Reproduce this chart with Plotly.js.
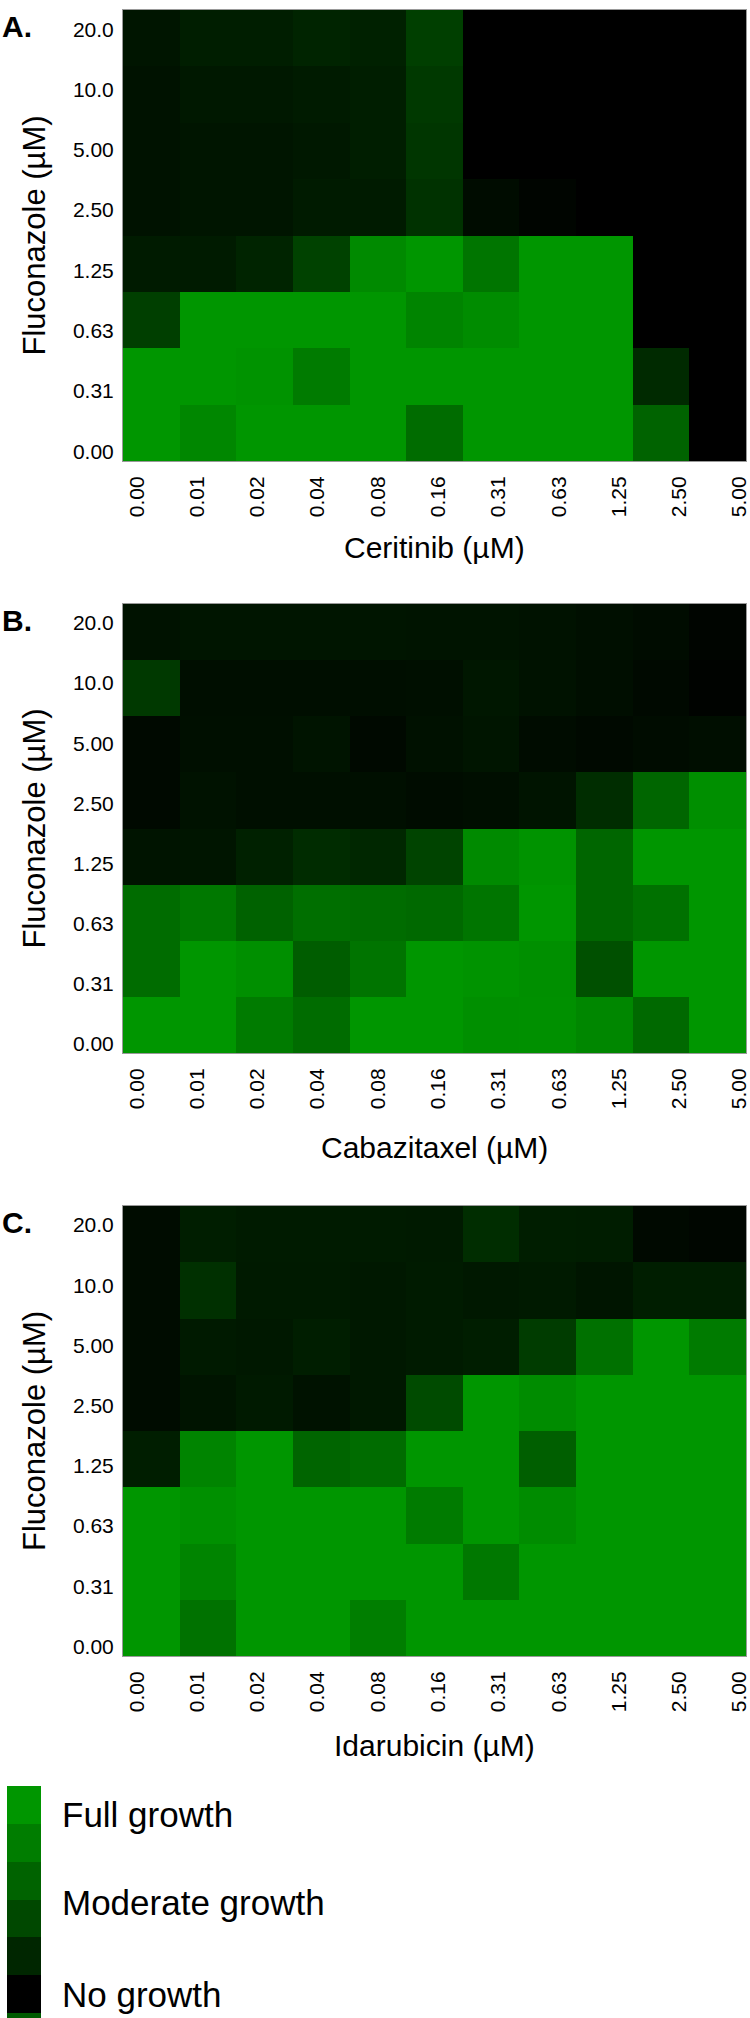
<!DOCTYPE html>
<html>
<head>
<meta charset="utf-8">
<script src="https://cdn.plot.ly/plotly-3.0.1.min.js"></script>
<style>html,body{margin:0;padding:0;background:#ffffff;}</style>
</head>
<body>
<div id="chart" style="width:750px;height:2018px;"></div>
<script>
// ---------- DATA ----------
const fluconazoleLabels = ["0.00","0.31","0.63","1.25","2.50","5.00","10.0","20.0"];
const secondDrugLabels = ["0.00","0.01","0.02","0.04","0.08","0.16","0.31","0.63","1.25","2.50","5.00"];
const panelLetters = ["A.","B.","C."];
const drugTitles = ["Ceritinib (µM)","Cabazitaxel (µM)","Idarubicin (µM)"];
const yTitle = "Fluconazole (µM)";

// relative growth (%), rows listed from top (20.0 µM) to bottom (0.00 µM)
const growthCeritinib = [
  [14, 20, 20, 24, 22, 42, 0, 0, 0, 0, 0],
  [12, 16, 16, 18, 20, 38, 0, 0, 0, 0, 0],
  [12, 14, 14, 16, 20, 36, 0, 0, 0, 0, 0],
  [12, 14, 14, 18, 18, 33, 8, 3, 0, 0, 0],
  [18, 18, 24, 44, 92, 100, 78, 100, 100, 0, 0],
  [42, 100, 100, 100, 100, 88, 93, 100, 100, 0, 0],
  [100, 100, 98, 82, 100, 100, 100, 100, 100, 28, 0],
  [100, 90, 100, 100, 100, 72, 100, 100, 100, 66, 0]
];
const growthCabazitaxel = [
  [12, 14, 14, 14, 14, 13, 13, 12, 10, 8, 3],
  [38, 9, 9, 9, 9, 10, 15, 12, 9, 6, 2],
  [6, 10, 10, 13, 6, 11, 14, 8, 6, 8, 9],
  [6, 12, 10, 10, 10, 8, 9, 13, 30, 68, 95],
  [13, 14, 22, 29, 26, 45, 92, 98, 68, 100, 100],
  [72, 80, 65, 74, 72, 70, 78, 100, 68, 75, 100],
  [72, 100, 95, 62, 77, 100, 98, 95, 53, 100, 100],
  [100, 100, 82, 72, 100, 100, 95, 96, 90, 70, 100]
];
const growthIdarubicin = [
  [8, 20, 18, 18, 18, 17, 30, 20, 19, 6, 4],
  [8, 32, 17, 17, 16, 18, 16, 17, 14, 20, 20],
  [8, 17, 16, 20, 16, 18, 20, 40, 75, 100, 82],
  [8, 13, 17, 12, 16, 50, 100, 93, 100, 100, 100],
  [20, 88, 100, 67, 72, 100, 100, 63, 100, 100, 100],
  [100, 96, 100, 100, 100, 82, 100, 93, 100, 100, 100],
  [100, 88, 100, 100, 100, 100, 80, 100, 100, 100, 100],
  [100, 76, 100, 100, 84, 100, 100, 100, 100, 100, 100]
];
// legend scale blocks, bottom to top (bottom block is cut by the page edge)
const legendLevels = [60, 0, 25, 48, 66, 83, 100];
const legendLabels = ["Full growth","Moderate growth","No growth"];

// ---------- STYLE / GEOMETRY ----------
const W = 750, H = 2018;
const FONT = "Liberation Sans, Arial, sans-serif";
const plotLeft = 123, plotRight = 746;
const panelTop = [10, 604, 1206];
const panelBottom = [461, 1053, 1656];
const xTitleY = [548, 1147, 1745];
const colorscale = [[0, "#000000"], [1, "rgb(0,150,0)"]];
const labelSpreadX = 1.064, labelShiftX = 0.065;
const labelSpreadY = 1.07, labelShiftY = -0.085;

const px = x => x / W;
const py = y => 1 - y / H;

const grids = [growthCeritinib, growthCabazitaxel, growthIdarubicin];
const data = [];
const layout = {
  width: W, height: H,
  margin: {l: 0, r: 0, t: 0, b: 0},
  paper_bgcolor: "#ffffff", plot_bgcolor: "#ffffff",
  showlegend: false,
  font: {family: FONT, color: "#000000"},
  annotations: []
};

const xIdx = secondDrugLabels.map((_, i) => i);
const yIdx = fluconazoleLabels.map((_, i) => i);
const nX = secondDrugLabels.length, nY = fluconazoleLabels.length;
const xTickVals = xIdx.map(c => (nX - 1) / 2 + (c - (nX - 1) / 2) * labelSpreadX + labelShiftX);
const yTickVals = yIdx.map(r => (nY - 1) / 2 + (r - (nY - 1) / 2) * labelSpreadY + labelShiftY);

grids.forEach((grid, k) => {
  const n = k === 0 ? "" : String(k + 1);
  data.push({
    type: "heatmap",
    x: xIdx, y: yIdx,
    z: grid.slice().reverse(),
    xaxis: "x" + n, yaxis: "y" + n,
    colorscale: colorscale, zmin: 0, zmax: 100,
    showscale: false, hoverinfo: "skip"
  });
  layout["xaxis" + n] = {
    domain: [px(plotLeft), px(plotRight)],
    anchor: "y" + n,
    range: [-0.5, nX - 0.5],
    tickmode: "array", tickvals: xTickVals, ticktext: secondDrugLabels,
    tickangle: -90, ticks: "", showgrid: false, zeroline: false,
    showline: true, linecolor: "rgba(110,110,110,0.7)", linewidth: 1, mirror: true,
    tickfont: {family: FONT, size: 21, color: "#000"},
    ticklabelstandoff: 6,
    ticklabeloverflow: "allow",
    fixedrange: true
  };
  layout["yaxis" + n] = {
    domain: [py(panelBottom[k]), py(panelTop[k])],
    anchor: "x" + n,
    range: [-0.5, nY - 0.5],
    tickmode: "array", tickvals: yTickVals, ticktext: fluconazoleLabels,
    ticks: "", showgrid: false, zeroline: false,
    showline: true, linecolor: "rgba(110,110,110,0.7)", linewidth: 1, mirror: true,
    tickfont: {family: FONT, size: 21, color: "#000"},
    ticklabelstandoff: 4,
    ticklabeloverflow: "allow",
    fixedrange: true
  };
  // panel letter
  layout.annotations.push({
    xref: "paper", yref: "paper", x: 0, y: py(panelTop[k] - 2),
    xanchor: "left", yanchor: "top", showarrow: false,
    text: "<b>" + panelLetters[k] + "</b>",
    font: {family: FONT, size: 30, color: "#000"}
  });
  // y title
  layout.annotations.push({
    xref: "paper", yref: "paper", x: px(34), y: py((panelTop[k] + panelBottom[k]) / 2),
    xanchor: "center", yanchor: "middle", showarrow: false, textangle: -90,
    text: yTitle, font: {family: FONT, size: 31, color: "#000"}
  });
  // x title
  layout.annotations.push({
    xref: "paper", yref: "paper", x: px((plotLeft + plotRight) / 2), y: py(xTitleY[k]),
    xanchor: "center", yanchor: "middle", showarrow: false,
    text: drugTitles[k], font: {family: FONT, size: 30, color: "#000"}
  });
});

// legend scale
const legTop = 1786, legLeft = 7, legRight = 41;
data.push({
  type: "heatmap",
  x: [0], y: legendLevels.map((_, i) => i),
  z: legendLevels.map(v => [v]),
  xaxis: "x4", yaxis: "y4",
  colorscale: colorscale, zmin: 0, zmax: 100,
  showscale: false, hoverinfo: "skip"
});
layout.xaxis4 = {domain: [px(legLeft), px(legRight)], anchor: "y4", range: [-0.5, 0.5], visible: false, fixedrange: true};
layout.yaxis4 = {domain: [0, py(legTop)], anchor: "x4", range: [0.37, legendLevels.length - 0.5], visible: false, fixedrange: true};
const legendTextY = [1810, 1898, 1990];
legendLabels.forEach((t, i) => {
  layout.annotations.push({
    xref: "paper", yref: "paper", x: px(60), y: py(legendTextY[i] + 4),
    xanchor: "left", yanchor: "middle", showarrow: false,
    text: t, font: {family: FONT, size: 35, color: "#000"}
  });
});

Plotly.newPlot("chart", data, layout, {staticPlot: true, displayModeBar: false});
</script>
</body>
</html>
